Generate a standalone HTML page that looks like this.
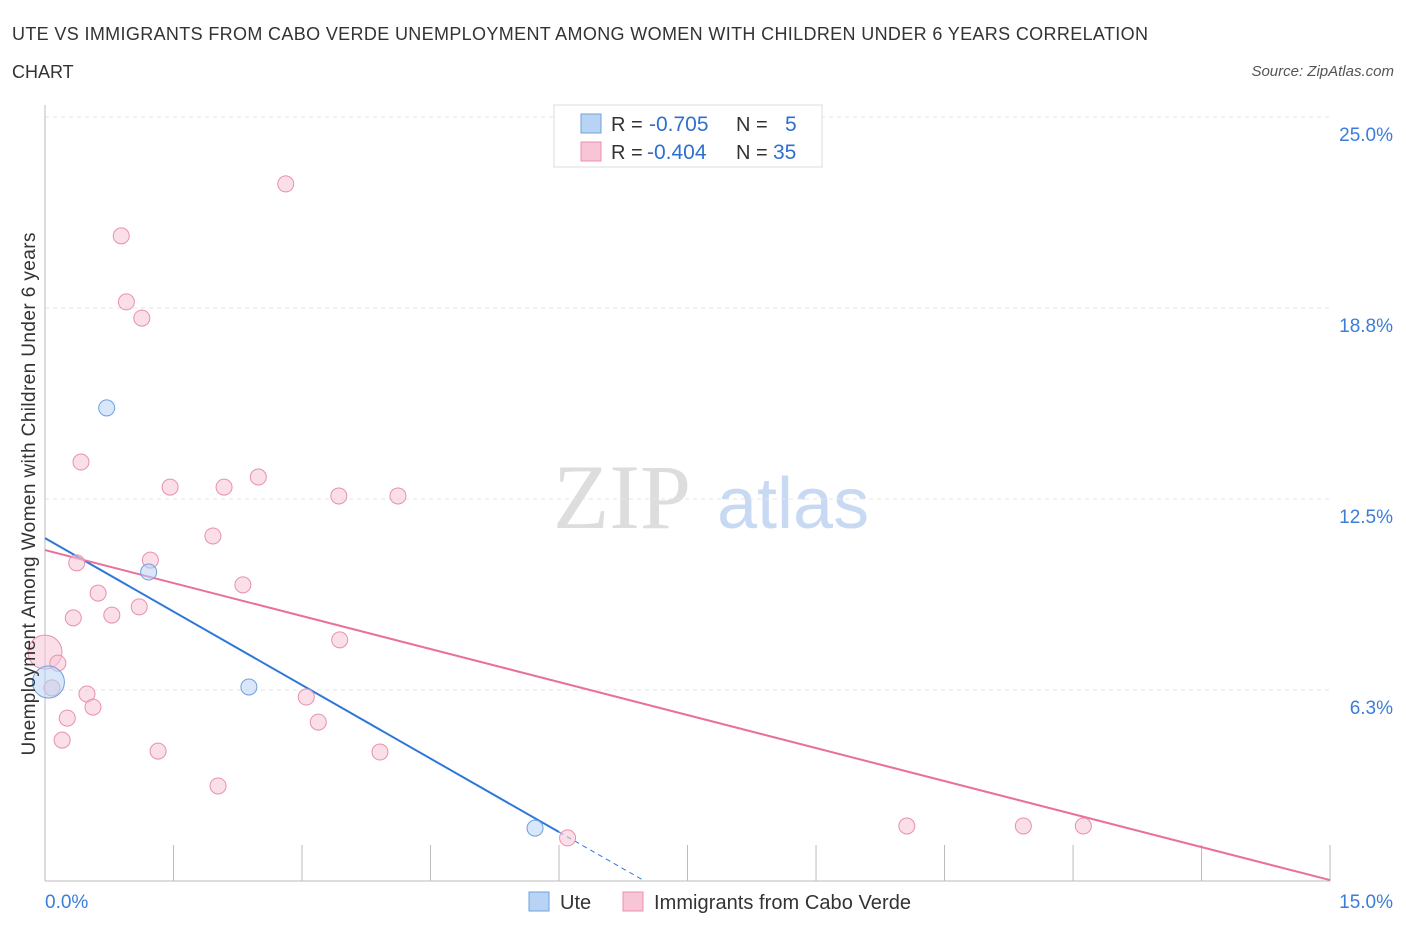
<!DOCTYPE html>
<html><head><meta charset="utf-8"><style>
body{margin:0;background:#fff;font-family:"Liberation Sans",sans-serif;}
svg{display:block}
</style></head><body>
<svg width="1406" height="930" viewBox="0 0 1406 930">
<text x="12" y="40" font-size="18" fill="#333" textLength="1136">UTE VS IMMIGRANTS FROM CABO VERDE UNEMPLOYMENT AMONG WOMEN WITH CHILDREN UNDER 6 YEARS CORRELATION</text>
<text x="12" y="78" font-size="18" fill="#333">CHART</text>
<text x="1394" y="76" font-size="15" fill="#555" font-style="italic" text-anchor="end">Source: ZipAtlas.com</text>
<g>
<text x="553" y="528" font-size="92" fill="#ddd" font-family="Liberation Serif,serif">ZIP</text>
<text x="717" y="528" font-size="72" fill="#c8daf3">atlas</text>
</g>
<g id="grid"></g>
<g id="axes"></g>
<g id="lines"></g>
<g id="points"></g>
<text x="35" y="494" font-size="19" fill="#333" text-anchor="middle" textLength="523" transform="rotate(-90 35 494)">Unemployment Among Women with Children Under 6 years</text>
<g>
<rect x="554" y="105" width="268" height="62" fill="#fff" stroke="#ddd"/>
<rect x="581" y="114" width="20" height="19" fill="#b8d4f5" stroke="#6fa0dc"/>
<rect x="581" y="142" width="20" height="19" fill="#f7c5d5" stroke="#e890ad"/>
<text x="611" y="131" font-size="20" fill="#333">R =</text>
<text x="649" y="131" font-size="21" fill="#2f6fd0">-0.705</text>
<text x="736" y="131" font-size="20" fill="#333">N =</text>
<text x="785" y="131" font-size="21" fill="#2f6fd0">5</text>
<text x="611" y="159" font-size="20" fill="#333">R =</text>
<text x="647" y="159" font-size="21" fill="#2f6fd0">-0.404</text>
<text x="736" y="159" font-size="20" fill="#333">N =</text>
<text x="773" y="159" font-size="21" fill="#2f6fd0">35</text>
</g>
<g>
<rect x="529" y="892" width="20" height="19" fill="#b8d4f5" stroke="#6fa0dc"/>
<text x="560" y="909" font-size="20" fill="#333">Ute</text>
<rect x="623" y="892" width="20" height="19" fill="#f7c5d5" stroke="#e890ad"/>
<text x="654" y="909" font-size="20" fill="#333" textLength="257">Immigrants from Cabo Verde</text>
</g>
</svg>
<script>
const yTicks=[6.25,12.5,18.75,25];
const yTickLabels=["6.3%","12.5%","18.8%","25.0%"];
const xTickLabels=["0.0%","15.0%"];
const uteX=[0.72,1.21,2.38,5.72,0.04];
const uteY=[15.48,10.11,6.35,1.73,6.51];
const uteR=[8,8,8,8,16];
const cvX=[2.81,0.89,0.95,1.13,0.42,1.46,2.09,2.49,3.43,4.12,1.96,1.23,0.37,2.31,0.62,1.10,0.78,0.33,3.44,0.0,0.15,0.08,0.49,3.05,0.56,3.19,0.26,0.20,1.32,3.91,2.02,6.10,10.06,11.42,12.12];
const cvY=[22.81,21.11,18.95,18.42,13.71,12.89,12.89,13.22,12.60,12.60,11.29,10.50,10.41,9.69,9.42,8.97,8.70,8.61,7.89,7.49,7.13,6.32,6.12,6.02,5.69,5.20,5.33,4.61,4.25,4.22,3.11,1.41,1.80,1.80,1.80];
const cvR=[8,8,8,8,8,8,8,8,8,8,8,8,8,8,8,8,8,8,8,17,8,8,8,8,8,8,8,8,8,8,8,8,8,8,8];
const uteLine=[11.22,0,6.0,7.0];
const uteLineSlope=-1.603;
const cvLine=[10.83,-0.72];
const NS="http://www.w3.org/2000/svg";
const X=v=>45+v*85.67, Y=v=>881-v*30.56;
function mk(t,a,p){const e=document.createElementNS(NS,t);for(const k in a)e.setAttribute(k,a[k]);p.appendChild(e);return e;}
const grid=document.getElementById('grid'),axes=document.getElementById('axes');
yTicks.forEach((t,i)=>{
 const g=mk('line',{x1:45,x2:1330,y1:Y(t),y2:Y(t),stroke:'#e4e4e4','stroke-dasharray':'4 4'},grid);
 
 
 const tx=mk('text',{x:1393,y:Y(t)+24,'font-size':19,fill:'#3b7dd8','text-anchor':'end'},axes);
 tx.textContent=yTickLabels[i];
 
 
});
const ax=mk('line',{x1:45,x2:1330,y1:881,y2:881,stroke:'#bbb'},axes);


const ay=mk('line',{x1:45,x2:45,y1:105,y2:881,stroke:'#bbb'},axes);


for(let i=0;i<=10;i++){const t=mk('line',{x1:X(i*1.5),x2:X(i*1.5),y1:845,y2:881,stroke:'#bbb'},axes);
 
 }
[[0,'start',45],[15,'end',1393]].forEach((d,i)=>{const t=mk('text',{x:d[2],y:908,'font-size':19,fill:'#3b7dd8','text-anchor':d[1]},axes);t.textContent=xTickLabels[i];
 
 });
const L=document.getElementById('lines');
const b1=mk('line',{x1:X(0),y1:Y(uteLine[0]),x2:X(uteLine[2]),y2:Y(uteLine[0]+uteLineSlope*uteLine[2]),stroke:'#2f78d8','stroke-width':2},L);


const b2=mk('line',{x1:X(uteLine[2]),y1:Y(uteLine[0]+uteLineSlope*uteLine[2]),x2:X(uteLine[3]),y2:Y(uteLine[0]+uteLineSlope*uteLine[3]),stroke:'#2f78d8','stroke-width':1,'stroke-dasharray':'5 4'},L);


const p1=mk('line',{x1:X(0),y1:Y(cvLine[0]),x2:X(15),y2:Y(cvLine[0]+cvLine[1]*15),stroke:'#e8709a','stroke-width':2},L);


const P=document.getElementById('points');
cvX.forEach((v,i)=>{const c=mk('circle',{cx:X(v),cy:Y(cvY[i]),r:cvR[i],fill:'#f7c5d5','fill-opacity':0.55,stroke:'#e890ad','stroke-width':1},P);
 
 });
uteX.forEach((v,i)=>{const c=mk('circle',{cx:X(v),cy:Y(uteY[i]),r:uteR[i],fill:'#b8d4f5','fill-opacity':0.55,stroke:'#6fa0dc','stroke-width':1},P);
 
 });
</script>
</body></html>
